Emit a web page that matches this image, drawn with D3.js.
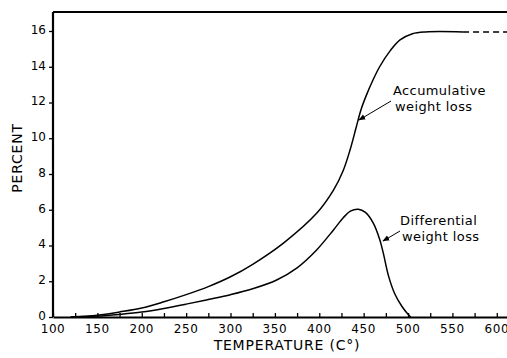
<!DOCTYPE html>
<html>
<head>
<meta charset="utf-8">
<script src="https://cdn.jsdelivr.net/npm/d3@7"></script>
<style>
  body { margin: 0; background: #fff; }
  svg text { font-family: "DejaVu Sans", sans-serif; fill: #000; }
</style>
</head>
<body>
<svg></svg>
<script>
const width = 507;
const height = 358;
const margin = { top: 12, right: 0, bottom: 41, left: 53 };

// accumulative weight loss (solid part)
const accumTemps = [120, 150, 175, 200, 225, 250, 275, 300, 325, 360, 397, 416, 427, 435, 441, 447, 453, 460, 468, 480, 491, 505, 520, 562];
const accumValues = [0, 0.1, 0.28, 0.5, 0.85, 1.25, 1.7, 2.25, 2.95, 4.15, 5.8, 7.1, 8.2, 9.4, 10.5, 11.6, 12.4, 13.2, 14.0, 14.9, 15.5, 15.85, 15.95, 15.95];
// dashed continuation
const accumDashTemps = [562, 612];
const accumDashValues = [15.95, 15.95];

// differential weight loss
const diffTemps = [120, 150, 175, 200, 225, 250, 275, 300, 325, 352, 375, 397, 416, 427, 435, 444, 452, 461, 468, 472, 478, 485, 493, 500, 503];
const diffValues = [0, 0.05, 0.15, 0.28, 0.48, 0.72, 0.98, 1.25, 1.58, 2.07, 2.75, 3.75, 4.87, 5.55, 5.92, 6.03, 5.85, 5.24, 4.35, 3.6, 2.3, 1.3, 0.6, 0.15, 0];

const xTicks = d3.range(100, 601, 25);
const xLabels = d3.range(100, 601, 50);
const yTicks = [0, 2, 4, 6, 8, 10, 12, 14, 16];

const svg = d3.select("svg")
    .attr("width", width)
    .attr("height", height);

const x = d3.scaleLinear()
    .domain([100, 611.5])
    .range([margin.left, width - margin.right]);

const y = d3.scaleLinear()
    .domain([0, 16])
    .range([317, 31]);

const line = d3.line()
    .x(d => x(d[0]))
    .y(d => y(d[1]))
    .curve(d3.curveCatmullRom.alpha(0.5));

// top border
svg.append("line")
    .attr("x1", margin.left).attr("x2", width)
    .attr("y1", margin.top).attr("y2", margin.top)
    .attr("stroke", "#000").attr("stroke-width", 2);

// x axis
const xAxis = svg.append("g")
    .attr("transform", `translate(0,${y(0)})`)
    .call(d3.axisBottom(x).tickValues(xTicks).tickSizeInner(-4).tickSizeOuter(0).tickFormat(""));
xAxis.select(".domain").attr("stroke-width", 2.2);
xAxis.selectAll(".tick line").attr("stroke-width", 1.3);

svg.append("g").selectAll("text")
    .data(xLabels)
    .enter().append("text")
    .attr("x", d => x(d))
    .attr("y", 333)
    .attr("text-anchor", "middle")
    .style("font-size", "12px")
    .style("letter-spacing", "0.6px")
    .text(d => d);

// y axis
const yAxis = svg.append("g")
    .attr("transform", `translate(${margin.left},0)`)
    .call(d3.axisLeft(y).tickValues(yTicks).tickSize(4).tickPadding(3));
yAxis.select(".domain").attr("d", `M0,${y(0)}V${margin.top}`).attr("stroke-width", 2.2);
yAxis.selectAll(".tick line").attr("stroke-width", 1.3);
yAxis.selectAll(".tick text")
    .attr("dy", "0.2em")
    .style("font-size", "12px")
    .style("font-family", "DejaVu Sans, sans-serif");

// curves
svg.append("path")
    .datum(d3.zip(accumTemps, accumValues))
    .attr("fill", "none").attr("stroke", "#000").attr("stroke-width", 1.5)
    .attr("d", line);

svg.append("path")
    .datum(d3.zip(accumDashTemps, accumDashValues))
    .attr("fill", "none").attr("stroke", "#000").attr("stroke-width", 1.5)
    .attr("stroke-dasharray", "6,4")
    .attr("d", line);

svg.append("path")
    .datum(d3.zip(diffTemps, diffValues))
    .attr("fill", "none").attr("stroke", "#000").attr("stroke-width", 1.5)
    .attr("d", line);

// arrow marker
svg.append("defs").append("marker")
    .attr("id", "arrow")
    .attr("viewBox", "0 0 10 10")
    .attr("refX", 9).attr("refY", 5)
    .attr("markerWidth", 7).attr("markerHeight", 7)
    .attr("orient", "auto")
    .append("path")
    .attr("d", "M0,1L10,5L0,9Z")
    .attr("fill", "#000");

const notes = [
    { lines: ["Accumulative", "weight loss"], tx: 393, ty: 95, from: [391, 101], to: [359, 120] },
    { lines: ["Differential", "weight loss"], tx: 400, ty: 225, from: [400, 231], to: [383, 241] }
];

notes.forEach(n => {
    const t = svg.append("text")
        .attr("x", n.tx).attr("y", n.ty)
        .style("font-size", "13px")
        .style("letter-spacing", "0.4px");
    t.selectAll("tspan")
        .data(n.lines)
        .enter().append("tspan")
        .attr("x", (d, i) => n.tx + i * 2)
        .attr("dy", (d, i) => i ? 16 : 0)
        .text(d => d);
    svg.append("line")
        .attr("x1", n.from[0]).attr("y1", n.from[1])
        .attr("x2", n.to[0]).attr("y2", n.to[1])
        .attr("stroke", "#000").attr("stroke-width", 1)
        .attr("marker-end", "url(#arrow)");
});

// axis titles
svg.append("text")
    .attr("x", 287).attr("y", 350)
    .attr("text-anchor", "middle")
    .style("font-size", "14px")
    .style("letter-spacing", "0.8px")
    .text("TEMPERATURE (C°)");

svg.append("text")
    .attr("transform", `translate(22,${y(8.9)}) rotate(-90)`)
    .attr("text-anchor", "middle")
    .style("font-size", "14px")
    .style("letter-spacing", "0.8px")
    .text("PERCENT");
</script>
</body>
</html>
